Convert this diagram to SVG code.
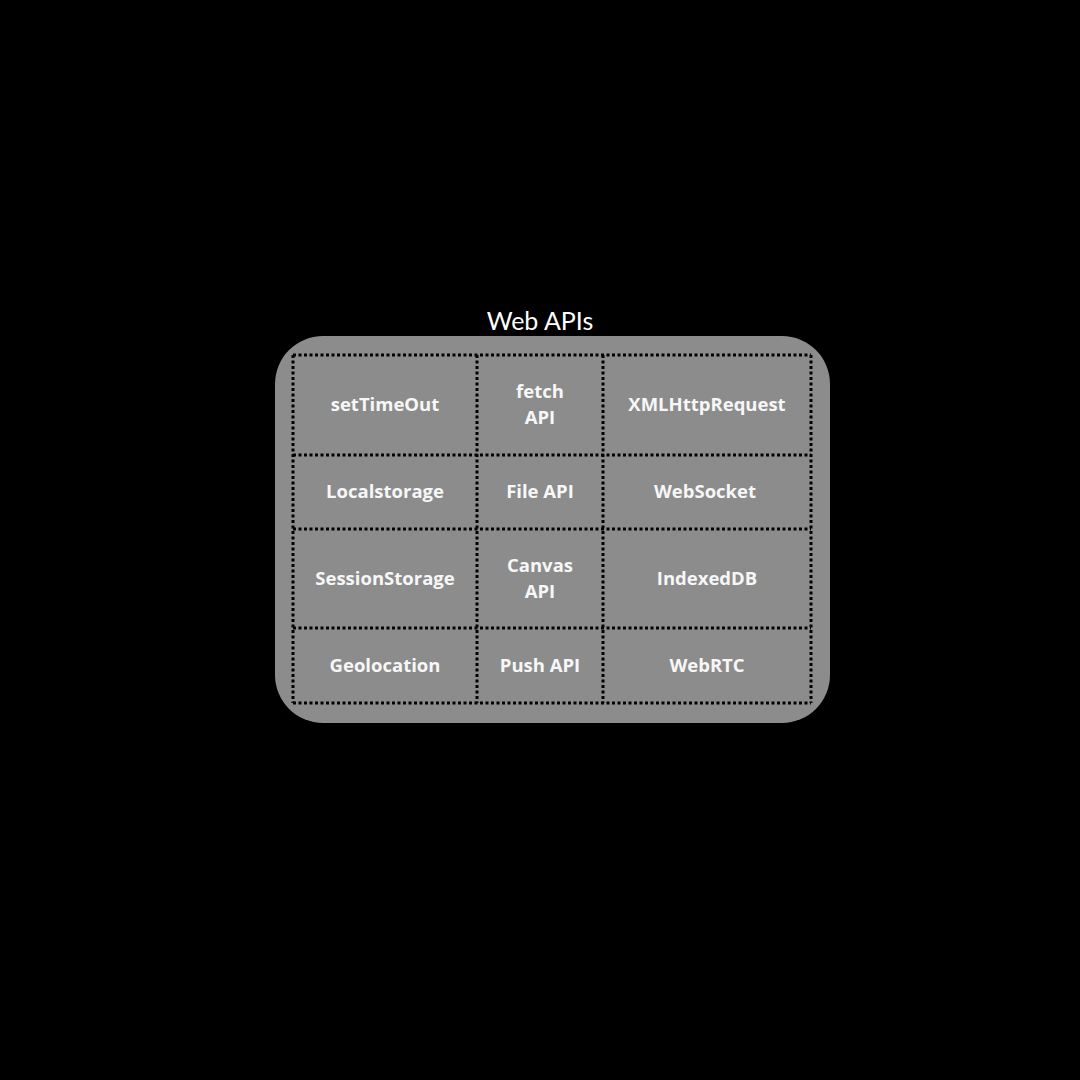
<svg xmlns="http://www.w3.org/2000/svg" width="1080" height="1080" viewBox="0 0 1080 1080">
<style>
.bg{fill:#000}
.panel{fill:#8c8c8c}
.grid{stroke:#000;stroke-width:3;stroke-dasharray:3 2.5;fill:none}
.lbl{font-family:"Open Sans","Lato",sans-serif;font-weight:700;font-size:18.5px;fill:#f7f7f7;text-anchor:middle}
.title{font-family:"Lato","Open Sans",sans-serif;font-weight:400;font-size:25px;fill:#fff;text-anchor:middle}
</style>
<rect class="bg" x="0" y="0" width="1080" height="1080"/>
<g id="web-apis">
<text class="title" x="540" y="330">Web APIs</text>
<rect class="panel" x="275" y="336" width="555" height="387" rx="48" ry="48"/>
</g>
<g id="grid">
<line class="grid" x1="293" y1="355" x2="811" y2="355"/>
<line class="grid" x1="293" y1="455" x2="811" y2="455"/>
<line class="grid" x1="293" y1="529" x2="811" y2="529"/>
<line class="grid" x1="293" y1="628" x2="811" y2="628"/>
<line class="grid" x1="293" y1="703" x2="811" y2="703"/>
<line class="grid" x1="293" y1="355" x2="293" y2="703"/>
<line class="grid" x1="477" y1="355" x2="477" y2="703"/>
<line class="grid" x1="603" y1="355" x2="603" y2="703"/>
<line class="grid" x1="811" y1="355" x2="811" y2="703"/>
</g>
<g id="setTimeOut"><text class="lbl" x="385" y="411">setTimeOut</text></g>
<g id="fetch-api"><text class="lbl" x="540" y="398">fetch</text><text class="lbl" x="540" y="424">API</text></g>
<g id="xmlhttprequest"><text class="lbl" x="707" y="411">XMLHttpRequest</text></g>
<g id="localstorage"><text class="lbl" x="385" y="498">Localstorage</text></g>
<g id="file-api"><text class="lbl" x="540" y="498">File API</text></g>
<g id="websocket"><text class="lbl" x="705" y="498">WebSocket</text></g>
<g id="sessionstorage"><text class="lbl" x="385" y="585">SessionStorage</text></g>
<g id="canvas-api"><text class="lbl" x="540" y="572">Canvas</text><text class="lbl" x="540" y="598">API</text></g>
<g id="indexeddb"><text class="lbl" x="707" y="585">IndexedDB</text></g>
<g id="geolocation"><text class="lbl" x="385" y="672">Geolocation</text></g>
<g id="push-api"><text class="lbl" x="540" y="672">Push API</text></g>
<g id="webrtc"><text class="lbl" x="707" y="672">WebRTC</text></g>
</svg>
